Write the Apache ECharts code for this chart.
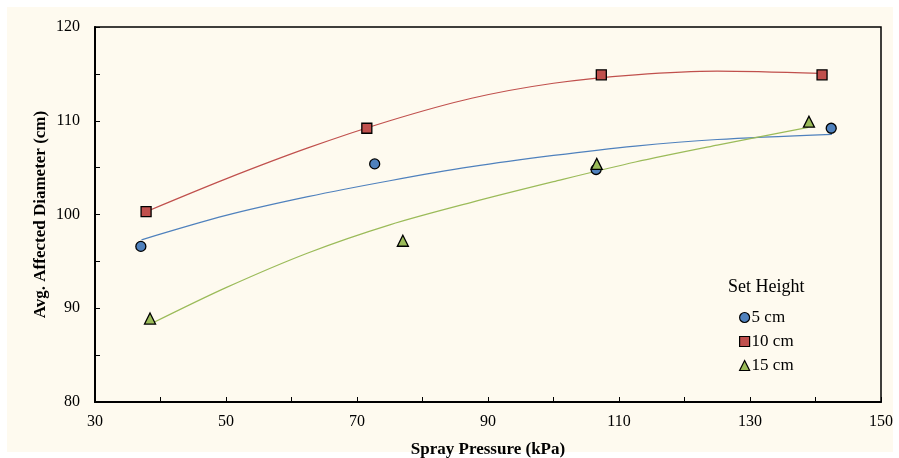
<!DOCTYPE html>
<html>
<head>
<meta charset="utf-8">
<script src="https://cdn.jsdelivr.net/npm/echarts@6/dist/echarts.min.js"></script>
<style>
html,body{margin:0;padding:0;background:#ffffff;}
#chart{width:899px;height:458px;}
</style>
</head>
<body>
<div id="chart"></div>
<script>
// Observed data (Spray Pressure kPa, Avg. Affected Diameter cm)
const seriesNames = ['5 cm', '10 cm', '15 cm'];
const pts5  = [[37.0, 96.6], [72.7, 105.4], [106.5, 104.8], [142.4, 109.2]];
const pts10 = [[37.8, 100.3], [71.5, 109.2], [107.3, 114.9], [141.0, 114.9]];
const pts15 = [[38.4, 88.9], [77.0, 97.2], [106.6, 105.4], [139.0, 109.9]];

// Trendline positions
const trend5  = [[37.1, 97.3], [50, 99.9], [62.5, 101.9], [75, 103.6], [87.5, 105.1], [100, 106.3], [112.5, 107.3], [125, 108.0], [142.5, 108.55]];
const trend10 = [[37.8, 100.3], [50, 103.8], [62.5, 107.1], [75, 110.0], [87.5, 112.4], [100, 114.0], [112.5, 114.9], [125, 115.3], [140.7, 115.05]];
const trend15 = [[38.7, 88.4], [50, 92.2], [62.5, 95.9], [75, 98.9], [87.5, 101.3], [100, 103.5], [112.5, 105.6], [125, 107.4], [138.9, 109.3]];

const xTicks = [30, 50, 70, 90, 110, 130, 150];
const yTicks = [80, 90, 100, 110, 120];

const colors = ['#4F81BD', '#C0504D', '#9BBB59'];
const symbols = ['circle', 'rect', 'triangle'];
const font = '"Liberation Serif", "Times New Roman", serif';

const chart = echarts.init(document.getElementById('chart'));
const scatterData = [pts5, pts10, pts15];
const trendData = [trend5, trend10, trend15];

const series = [];
trendData.forEach((d, i) => {
  series.push({
    type: 'line', data: d, smooth: 0.3, showSymbol: false, silent: true,
    lineStyle: {color: colors[i], width: 1.2}, z: 2, legendHoverLink: false
  });
});
scatterData.forEach((d, i) => {
  series.push({
    name: seriesNames[i], type: 'scatter', data: d, symbol: symbols[i],
    symbolSize: i === 2 ? 11 : 10,
    itemStyle: {color: colors[i], borderColor: '#000', borderWidth: 1.3, opacity: 1}, z: 5
  });
});

chart.setOption({
  animation: false,
  backgroundColor: '#ffffff',
  textStyle: {fontFamily: font},
  graphic: [
    {type: 'rect', z: -10, shape: {x: 7, y: 7, width: 886, height: 445}, style: {fill: '#FEFAEF'}},
    {type: 'text', left: 728, top: 278, style: {text: 'Set Height', font: '18px ' + font, fill: '#000'}}
  ],
  grid: {left: 95, top: 27, right: 18, bottom: 56, show: true, borderColor: '#000', borderWidth: 1.5,
    backgroundColor: 'transparent', containLabel: false, outerBoundsMode: 'none'},
  legend: {
    data: seriesNames.map((n, i) => ({name: n, icon: i === 0 ? 'circle' : (i === 1 ? 'rect' : 'triangle')})),
    orient: 'vertical', left: 734, top: 304, itemWidth: 10, itemHeight: 10, itemGap: 7,
    textStyle: {fontFamily: font, fontSize: 17, color: '#000', padding: [0, 0, 0, -3]},
    itemStyle: {borderColor: '#000', borderWidth: 1.2}
  },
  xAxis: {
    type: 'value', min: 30, max: 150, interval: 20,
    name: 'Spray Pressure (kPa)', nameLocation: 'middle', nameGap: 39,
    nameTextStyle: {fontFamily: font, fontSize: 17, fontWeight: 'bold', color: '#000'},
    axisLine: {show: true, lineStyle: {color: '#000', width: 2}},
    axisTick: {show: true, inside: true, length: 5, lineStyle: {color: '#000', width: 1}},
    minorTick: {show: true, splitNumber: 2, length: 5, lineStyle: {color: '#000', width: 1}},
    splitLine: {show: false},
    axisLabel: {fontFamily: font, fontSize: 16, color: '#000', margin: 12,
      formatter: v => xTicks.includes(v) ? String(v) : ''}
  },
  yAxis: {
    type: 'value', min: 80, max: 120, interval: 10,
    name: 'Avg. Affected Diameter (cm)', nameLocation: 'middle', nameGap: 46, nameRotate: 90,
    nameMoveOverlap: false,
    nameTextStyle: {fontFamily: font, fontSize: 17, fontWeight: 'bold', color: '#000'},
    axisLine: {show: true, lineStyle: {color: '#000', width: 2}},
    axisTick: {show: true, inside: true, length: 5, lineStyle: {color: '#000', width: 1}},
    minorTick: {show: true, splitNumber: 2, length: 5, lineStyle: {color: '#000', width: 1}},
    splitLine: {show: false},
    axisLabel: {fontFamily: font, fontSize: 16, color: '#000', margin: 15,
      formatter: v => yTicks.includes(v) ? String(v) : ''}
  },
  series: series
});
</script>
</body>
</html>
